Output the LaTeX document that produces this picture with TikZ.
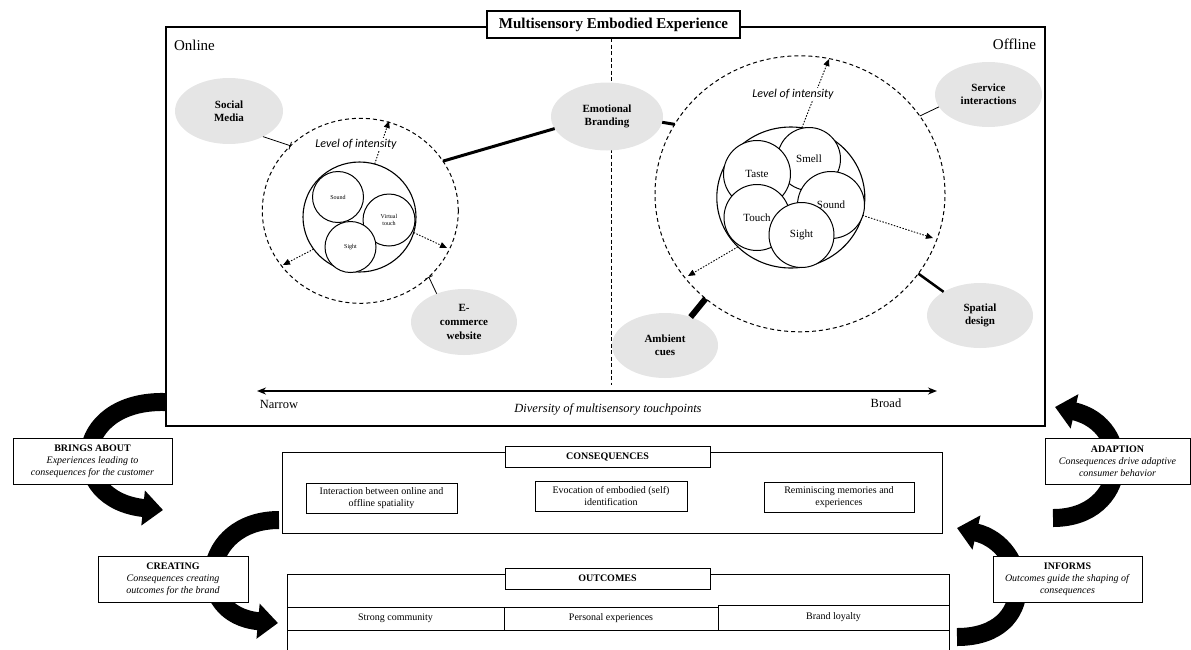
\documentclass[tikz,border=0pt]{standalone}
\usepackage{fontspec}
\setmainfont{Liberation Serif}
\newfontfamily\calibfont{Carlito}
\usetikzlibrary{arrows.meta,shapes.geometric}
\begin{document}
\begin{tikzpicture}[x=1pt,y=-1pt,
 every node/.style={inner sep=0pt,outer sep=0pt},
 tp/.style={ellipse,fill=black!10,minimum width=107pt,minimum height=66pt,align=center,font=\fontsize{11}{13}\selectfont\bfseries},
 dcirc/.style={ellipse,draw,line width=1pt,dash pattern=on 4pt off 3pt},
 scirc/.style={ellipse,draw,line width=1.1pt},
 sense/.style={circle,draw,fill=white,line width=1pt,align=center},
 dotarr/.style={line width=0.9pt,dash pattern=on 1.5pt off 1.5pt,-{Triangle[length=7pt,width=6pt]}},
 lvl/.style={fill=white,inner sep=1pt,font=\fontsize{12}{14}\selectfont\calibfont\itshape},
 thinlink/.style={line width=0.8pt,-{Bar[width=8pt,line width=0.8pt]}},
 inbox/.style={draw,line width=1pt,align=center,font=\fontsize{10}{11.5}\selectfont},
 bigarrow/.style={line width=18pt,-{Triangle[length=20pt,width=34pt]}},
 capbox/.style={draw,fill=white,line width=1pt,align=center,font=\fontsize{10}{12}\selectfont},
 headbox/.style={draw,fill=white,line width=1pt,minimum width=205pt,minimum height=21pt,font=\fontsize{10}{12}\selectfont\bfseries},
]
\useasboundingbox (0,0) rectangle (1191,649);

% main frame
\node[draw,line width=1.2pt,minimum width=879pt,minimum height=399pt] (frame) at (605.5,226.5) {};
\coordinate (divtop) at (611,38);
\coordinate (divbot) at (611,385);
\draw[line width=0.8pt,dash pattern=on 4pt off 2.5pt] (divtop) -- (divbot);
\node[draw,fill=white,line width=1.2pt,minimum width=253pt,minimum height=27pt,font=\fontsize{15}{17}\selectfont\bfseries] (title) at (613.5,24.5) {Multisensory Embodied Experience};
\node[anchor=west,font=\fontsize{15}{17}\selectfont] (online) at (174,45) {Online};
\node[anchor=east,font=\fontsize{15}{17}\selectfont] (offline) at (1036,44) {Offline};

% left (online) circle
\node[dcirc,minimum width=196pt,minimum height=185pt] (lc) at (360.3,210.8) {};
\node[scirc,minimum width=113pt,minimum height=110pt] (li) at (359.5,217) {};
\node[sense,minimum size=51pt,font=\fontsize{6}{7}\selectfont] (lsound) at (338,197) {Sound};
\node[sense,minimum size=52pt,font=\fontsize{6}{7}\selectfont] (lvt) at (389,220) {Virtual\\touch};
\node[sense,minimum size=51pt,font=\fontsize{6}{7}\selectfont] (lsight) at (350.5,247) {Sight};
\coordinate (la1) at (389,121);
\coordinate (la2) at (283,265);
\coordinate (la3) at (447,248);
\draw[dotarr] (li.74) -- (la1);
\draw[dotarr] (li.215) -- (la2);
\draw[dotarr] (li.344) -- (la3);
\node[lvl] (llev) at (356,144) {Level of intensity};

% right (offline) circle
\node[dcirc,minimum width=290pt,minimum height=276pt] (rc) at (800,193.8) {};
\node[scirc,minimum width=148pt,minimum height=141pt] (ri) at (790.8,197.5) {};
\node[sense,minimum size=63pt,font=\fontsize{11}{13}\selectfont] (rsmell) at (809,159) {\raisebox{-6pt}{Smell}};
\node[sense,minimum size=67pt,font=\fontsize{11}{13}\selectfont] (rtaste) at (757,174) {Taste};
\node[sense,minimum size=67pt,font=\fontsize{11}{13}\selectfont] (rsound) at (831,205) {Sound};
\node[sense,minimum size=66pt,font=\fontsize{11}{13}\selectfont] (rtouch) at (757,217.5) {Touch};
\node[sense,minimum size=65pt,font=\fontsize{11}{13}\selectfont] (rsight) at (801.5,235) {Sight};
\coordinate (ra1) at (829,59);
\coordinate (ra2) at (933,238);
\coordinate (ra3) at (688,276);
\draw[dotarr] (ri.81) -- (ra1);
\draw[dotarr] (ri.346) -- (ra2);
\draw[dotarr] (ri.223) -- (ra3);
\node[lvl] (rlev) at (793,94) {Level of intensity};

% touchpoints
\node[tp,minimum width=112pt,minimum height=68pt] (eb) at (607,116.5) {Emotional\\Branding};
\node[tp,minimum width=108pt] (sm) at (229,111) {Social\\Media};
\node[tp,minimum width=106pt,font=\fontsize{11}{14}\selectfont\bfseries] (ec) at (464,322) {E-\\commerce\\website};
\node[tp,minimum height=65pt] (si) at (988.5,94.5) {Service\\interactions};
\node[tp,minimum width=106pt,minimum height=65pt] (sd) at (980,315.5) {Spatial\\design};
\node[tp,minimum width=106pt,minimum height=65pt] (ac) at (665,345.5) {Ambient\\cues};

\draw[line width=3pt] (eb.193) -- (lc.31.6);
\draw[line width=3pt] (eb.354) -- (rc.151);
\draw[thinlink] (sm.323) -- (lc.137.6);
\draw[thinlink] (ec.134) -- (lc.316.7);
\draw[line width=0.8pt] (si.194) -- (rc.33);
\draw[line width=2.5pt] (sd.147) -- (rc.326.5);
\draw[line width=6pt] (ac.48) -- (rc.228);

% diversity axis
\coordinate (axL) at (257,391);
\coordinate (axR) at (937,391);
\draw[line width=1.5pt,{Stealth[length=9pt,width=7pt]}-{Stealth[length=9pt,width=7pt]}] (axL) -- (axR);
\node[font=\fontsize{12.5}{14}\selectfont] (narrow) at (279,404) {Narrow};
\node[font=\fontsize{12.5}{14}\selectfont] (broad) at (886,403) {Broad};
\node[font=\fontsize{12.5}{14}\selectfont\itshape] (diversity) at (608,409) {Diversity of multisensory touchpoints};

% consequences
\node[draw,line width=1pt,minimum width=660pt,minimum height=81pt] (cons) at (612,492.5) {};
\node[headbox] (conslab) at (607.5,456.5) {CONSEQUENCES};
\node[inbox,minimum width=151pt,minimum height=30pt] (c1) at (381.5,498) {Interaction between online and\\offline spatiality};
\node[inbox,minimum width=152pt,minimum height=30pt] (c2) at (611,496) {Evocation of embodied (self)\\identification};
\node[inbox,minimum width=150pt,minimum height=30pt] (c3) at (839,497) {Reminiscing memories and\\experiences};

% outcomes
\coordinate (oBL) at (287,652);
\coordinate (oTL) at (287,574);
\coordinate (oTR) at (949,574);
\coordinate (oBR) at (949,652);
\draw[line width=1pt] (oBL) -- (oTL) -- (oTR) -- (oBR);
\node[headbox] (outlab) at (607.5,578.5) {OUTCOMES};
\node[inbox,minimum width=217pt,minimum height=23pt] (o1) at (395.5,618.5) {Strong community};
\node[inbox,minimum width=214pt,minimum height=23pt] (o2) at (611,618.5) {Personal experiences};
\node[inbox,minimum width=231pt,minimum height=25pt] (o3) at (833.5,617.5) {Brand loyalty};

% big curved arrows
\coordinate (a1s) at (165,402);
\coordinate (a1e) at (163,510);
\draw[bigarrow] (a1s) .. controls (70,400) and (65,500) .. (a1e);
\coordinate (a2s) at (279,520);
\coordinate (a2e) at (278,623);
\draw[bigarrow] (a2s) .. controls (200,520) and (190,615) .. (a2e);
\coordinate (a3s) at (1053,518);
\coordinate (a3e) at (1055,407);
\draw[bigarrow] (a3s) .. controls (1130,518) and (1135,425) .. (a3e);
\coordinate (a4s) at (957,637);
\coordinate (a4e) at (957,528);
\draw[bigarrow] (a4s) .. controls (1040,637) and (1030,545) .. (a4e);

\node[capbox,minimum width=159pt,minimum height=46pt] (brings) at (92.5,461) {\textbf{BRINGS ABOUT}\\\textit{Experiences leading to}\\\textit{consequences for the customer}};
\node[capbox,minimum width=150pt,minimum height=46pt] (creating) at (173,579) {\textbf{CREATING}\\\textit{Consequences creating}\\\textit{outcomes for the brand}};
\node[capbox,minimum width=145pt,minimum height=46pt] (adaption) at (1117.5,461) {\textbf{ADAPTION}\\\textit{Consequences drive adaptive}\\\textit{consumer behavior}};
\node[capbox,minimum width=149pt,minimum height=46pt] (informs) at (1067.5,579) {\textbf{INFORMS}\\\textit{Outcomes guide the shaping of}\\\textit{consequences}};
\end{tikzpicture}
\end{document}
